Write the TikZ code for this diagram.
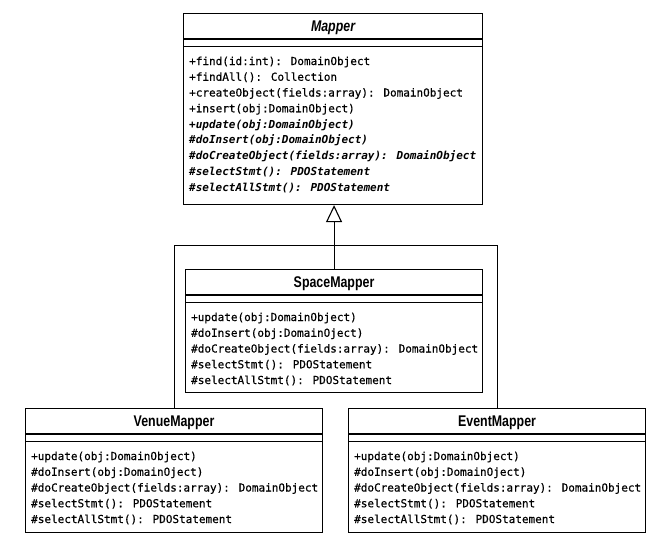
\documentclass[tikz,border=0pt]{standalone}
\usepackage{fontspec}
\usetikzlibrary{arrows.meta}
\newfontfamily\opfont[UprightFeatures={FakeBold=0.4}]{DejaVu Sans Mono}
\newfontfamily\headfont[FakeStretch=0.80]{Liberation Sans}

\tikzset{
  uml/.style={draw=black, line width=1.1pt, fill=white, rectangle,
              inner sep=0pt, anchor=north west},
  classname/.style={font=\headfont\bfseries\fontsize{15.5}{17}\selectfont,
                    inner sep=0pt, anchor=base},
  op/.style={font=\opfont\fontsize{11}{13}\selectfont, inner sep=0pt,
             anchor=base west},
  rule/.style={line width=1.1pt},
  link/.style={line width=1.1pt},
}

% class box: name, left, top, width, height, title
\newcommand\umlclass[6]{%
  \node[uml, minimum width=#4pt, minimum height=#5pt] (#1) at (#2,#3) {};
  \node[classname] (#1-name) at ([yshift=-18pt]#1.north) {#6};
  \draw[rule] ([yshift=-26pt]#1.north west) -- ([yshift=-26pt]#1.north east);
  \draw[rule] ([yshift=-33.5pt]#1.north west) -- ([yshift=-33.5pt]#1.north east);
}
% operations compartment: class name, list of lines
\newcommand\umlops[2]{%
  \foreach \t [count=\i] in {#2} {
    \node[op] (#1-op\i) at ([xshift=6pt, yshift={-52pt-(\i-1)*15.75pt}]#1.north west) {\t};
  }%
}
\newcommand\abst[1]{{\bfseries\itshape #1}}

\begin{document}
\begin{tikzpicture}[x=1pt, y=-1pt]
  \fill[white] (0,0) rectangle (672,549);
  \useasboundingbox (0,0) rectangle (672,549);

  % abstract base class
  \umlclass{mapper}{183}{13}{299}{191}{\itshape Mapper}
  \umlops{mapper}{%
    +find(id:int): DomainObject,
    +findAll(): Collection,
    +createObject(fields:array): DomainObject,
    +insert(obj:DomainObject),
    \abst{+update(obj:DomainObject)},
    \abst{\#doInsert(obj:DomainObject)},
    \abst{\#doCreateObject(fields:array): DomainObject},
    \abst{\#selectStmt(): PDOStatement},
    \abst{\#selectAllStmt(): PDOStatement}}

  % concrete mappers
  \umlclass{space}{185}{269}{297}{123}{SpaceMapper}
  \umlops{space}{%
    +update(obj:DomainObject),
    \#doInsert(obj:DomainOject),
    \#doCreateObject(fields:array): DomainObject,
    \#selectStmt(): PDOStatement,
    \#selectAllStmt(): PDOStatement}

  \umlclass{venue}{25}{408}{297}{124}{VenueMapper}
  \umlops{venue}{%
    +update(obj:DomainObject),
    \#doInsert(obj:DomainOject),
    \#doCreateObject(fields:array): DomainObject,
    \#selectStmt(): PDOStatement,
    \#selectAllStmt(): PDOStatement}

  \umlclass{event}{348}{408}{297}{124}{EventMapper}
  \umlops{event}{%
    +update(obj:DomainObject),
    \#doInsert(obj:DomainOject),
    \#doCreateObject(fields:array): DomainObject,
    \#selectStmt(): PDOStatement,
    \#selectAllStmt(): PDOStatement}

  % generalization tree
  \coordinate (bar) at (173.5,245.5);
  \draw[link] (venue.north) -- (venue.north |- bar) -- (event.north |- bar) -- (event.north);
  \draw[link, -{Triangle[open, length=17pt, width=16pt, line width=1.1pt]}]
    (space.north) -- (space.north |- mapper.south);
\end{tikzpicture}
\end{document}
